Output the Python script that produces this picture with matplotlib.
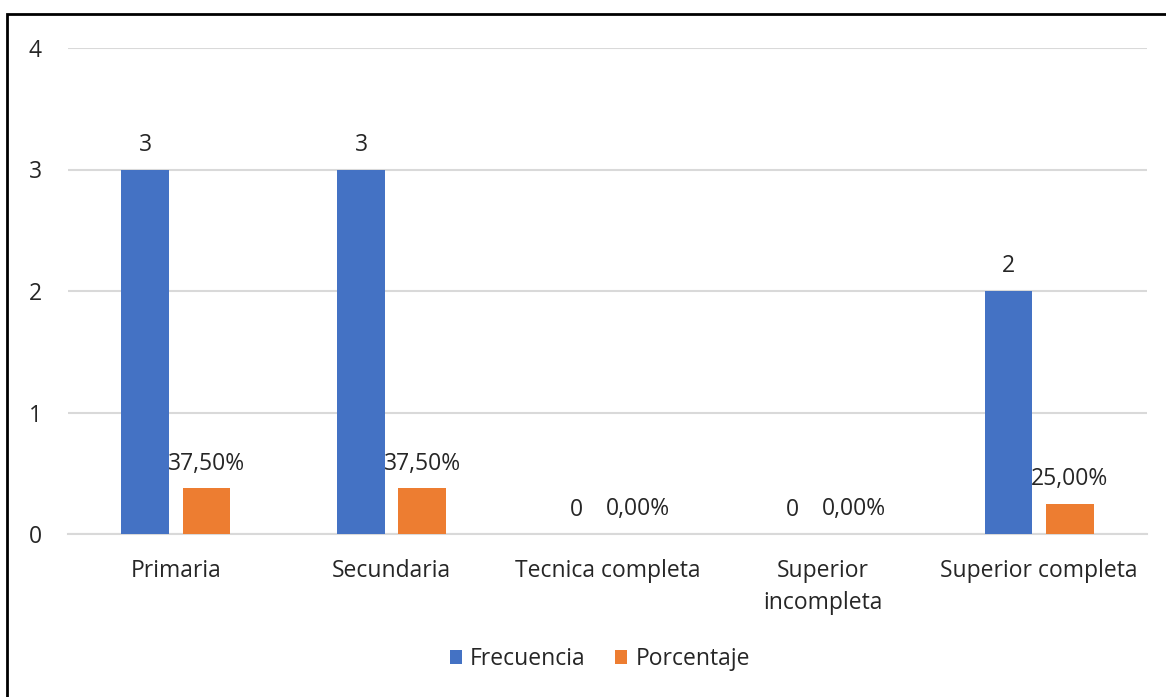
import matplotlib.pyplot as plt
from matplotlib.patches import Rectangle
import numpy as np

plt.rcParams['font.family'] = ['Open Sans', 'DejaVu Sans']

categorias = ['Primaria', 'Secundaria', 'Tecnica completa', 'Superior\nincompleta', 'Superior completa']
frecuencia = [3, 3, 0, 0, 2]
porcentaje = [0.375, 0.375, 0.0, 0.0, 0.25]
etiquetas_pct = ['37,50%', '37,50%', '0,00%', '0,00%', '25,00%']

azul = '#4472C4'
naranja = '#ED7D31'
gris = '#D9D9D9'
texto = '#262626'
fs = 16.5

W, H = 1166, 697
fig = plt.figure(figsize=(W/100, H/100), dpi=100)
ax = fig.add_axes([68/W, 1 - 534/H, (1147-68)/W, (534-48)/H])

x = np.arange(len(categorias))
off = 0.142
w = 0.222
b1 = ax.bar(x - off, frecuencia, w, color=azul, label='Frecuencia', zorder=3)
b2 = ax.bar(x + off, porcentaje, w, color=naranja, label='Porcentaje', zorder=3)

for xi, v in zip(x, frecuencia):
    ax.annotate(str(v), (xi - off, v), xytext=(0, 9), textcoords='offset points',
                ha='center', va='bottom', fontsize=fs, color=texto)
for xi, v, t in zip(x, porcentaje, etiquetas_pct):
    ax.annotate(t, (xi + off, v), xytext=(0, 9), textcoords='offset points',
                ha='center', va='bottom', fontsize=fs, color=texto)

ax.set_xlim(-0.5, 4.5)
ax.set_ylim(0, 4)
ax.set_yticks([0, 1, 2, 3, 4])
ax.set_xticks(x)
ax.set_xticklabels(categorias, fontsize=fs, color=texto, linespacing=1.45)
ax.tick_params(axis='y', labelsize=fs, labelcolor=texto, length=0, pad=19)
ax.tick_params(axis='x', length=0, pad=18)
ax.grid(axis='y', color=gris, linewidth=1.5, zorder=0)
for s in ['top', 'right', 'left']:
    ax.spines[s].set_visible(False)
ax.spines['bottom'].set_color(gris)
ax.spines['bottom'].set_linewidth(1.5)

fig.legend(handles=[b1, b2], loc='center', bbox_to_anchor=(600/W, 1 - 659/H),
           ncol=2, frameon=False, fontsize=fs, handlelength=0.52, handleheight=0.52,
           handletextpad=0.35, columnspacing=1.3, labelcolor=texto)

fig.patches.append(Rectangle((7/W, -0.1), 1.2, 1 - 14/H + 0.1, transform=fig.transFigure,
                             fill=False, edgecolor='black', linewidth=2))

fig.savefig('out.png', dpi=100)
